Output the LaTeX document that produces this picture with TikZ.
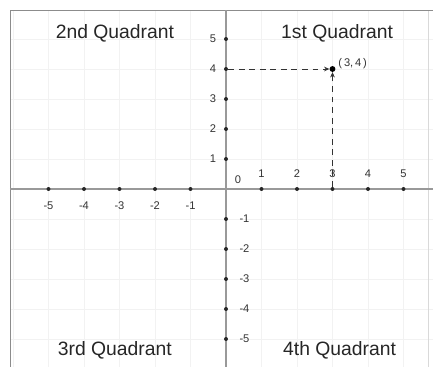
\documentclass[tikz,border=0pt]{standalone}
\usepackage{fontspec}
\setmainfont{Liberation Sans}
\usepackage{tikz}
\usetikzlibrary{arrows.meta,positioning}

\begin{document}
\begin{tikzpicture}[x=1.065cm,y=0.9cm]

        \tikzstyle{gridline}=[black!5,line width=0.4pt]
        \tikzstyle{frameline}=[black!45,line width=0.8pt]
        \tikzstyle{axisline}=[black!40,line width=1.3pt]
        \tikzstyle{tickdot}=[circle,fill=black!85,inner sep=0pt,minimum size=3.4pt]
        \tikzstyle{ticklabel}=[inner sep=0pt,text=black!80,font=\fontsize{9.5}{11}\selectfont]
        \tikzstyle{quadlabel}=[inner sep=0pt,text=black!85,font=\fontsize{16.5}{19}\selectfont]
        \tikzstyle{guide}=[black!80,line width=0.6pt,dash pattern=on 5pt off 4pt,-{Stealth[length=4.5pt,width=4pt]}]

        \useasboundingbox (-6.366,-5.933) rectangle (5.831,6.3);

        %% frame and faint grid
        \coordinate (fbl) at (-6.085,-5.933);
        \coordinate (ftl) at (-6.085,5.967);
        \coordinate (ftr) at (5.831,5.967);
        \foreach \x in {-6,...,5}
            \draw[gridline] (\x,-5.933) -- (\x,5.967);
        \foreach \y in {-5,...,5}
            \draw[gridline] (-6.085,\y) -- (5.831,\y);
        \draw[black!15] (5.69,-5.933) -- (5.69,5.967);
        \draw[frameline] (fbl) -- (ftl) -- (ftr);

        %% axes
        \draw[axisline] (-6.085,0) -- (5.831,0);
        \draw[axisline] (0,-5.933) -- (0,5.967);

        %% ticks and numbers on the x axis
        \foreach \i in {1,...,5} {
            \node[tickdot] (xt\i) at (\i,0) {};
            \node[ticklabel] (xl\i) at (\i,0.5) {\i};
        }
        \foreach \i in {-5,...,-1} {
            \node[tickdot] (xt\i) at (\i,0) {};
            \node[ticklabel] (xl\i) at (\i,-0.55) {\i};
        }

        %% ticks and numbers on the y axis
        \foreach \i in {1,...,5} {
            \node[tickdot] (yt\i) at (0,\i) {};
            \node[ticklabel] (yl\i) at (-0.37,\i) {\i};
        }
        \foreach \i in {-5,...,-1} {
            \node[tickdot] (yt\i) at (0,\i) {};
            \node[ticklabel] (yl\i) at (0.52,\i) {\i};
        }
        \node[ticklabel] (orig) at (0.34,0.3) {0};

        %% quadrant names
        \node[quadlabel] (q1) at (3.13,5.2) {1st Quadrant};
        \node[quadlabel] (q2) at (-3.13,5.2) {2nd Quadrant};
        \node[quadlabel] (q3) at (-3.13,-5.37) {3rd Quadrant};
        \node[quadlabel] (q4) at (3.2,-5.37) {4th Quadrant};

        %% the point (3,4)
        \node[circle,fill=black,inner sep=0pt,minimum size=5pt] (p) at (3,4) {};
        \node[ticklabel,anchor=south west] (pl) at ([xshift=3pt,yshift=-2pt]p.north east) {(\,3,\,4\,)};
        \draw[guide] (yt4) -- (p);
        \draw[guide] (xt3) -- (p);

\end{tikzpicture}
\end{document}
